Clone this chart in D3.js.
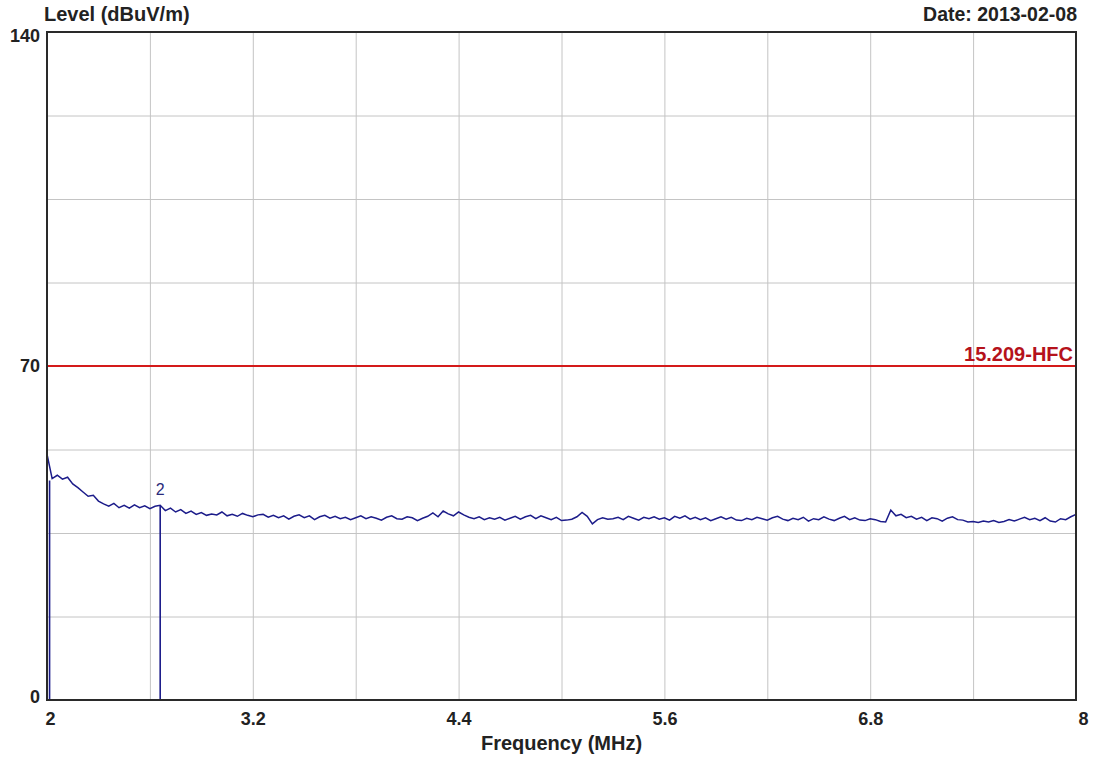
<!DOCTYPE html>
<html>
<head>
<meta charset="utf-8">
<script src="https://cdn.jsdelivr.net/npm/d3@7"></script>
<style>
  body { margin: 0; background: #fff; }
  svg text { font-family: "Liberation Sans", Arial, sans-serif; }
</style>
</head>
<body>
<div id="chart"></div>
<script>
// sweep 2..8 MHz, one reading every 0.03 MHz
const freqStart = 2;
const freqStep = 0.03;
const levels = [
  51.5, 46.4, 47.1, 46.3, 46.7, 45.3, 44.5, 43.6, 42.7, 42.9, 41.7, 41.1, 40.6, 41.2, 40.3, 40.8, 40.2, 40.9, 40.3, 40.7,
  40.1, 40.6, 40.8, 39.7, 40.2, 39.4, 39.9, 39.1, 39.6, 38.9, 39.3, 38.7, 39.0, 38.8, 39.4, 38.6, 38.9, 38.5, 39.1, 38.7,
  38.4, 38.8, 38.9, 38.3, 38.7, 38.2, 38.6, 37.9, 38.5, 38.8, 38.2, 38.6, 37.8, 38.4, 38.7, 38.1, 38.5, 38.0, 38.3, 37.8,
  38.2, 38.6, 38.0, 38.4, 38.1, 37.7, 38.3, 38.6, 38.0, 37.9, 38.4, 38.2, 37.6, 38.1, 38.5, 39.2, 38.4, 39.6, 39.0, 38.6,
  39.4, 38.8, 38.3, 38.0, 38.4, 37.8, 38.2, 37.9, 38.3, 37.7, 38.1, 38.5, 37.9, 38.4, 38.7, 38.0, 38.6, 38.2, 37.8, 38.3,
  37.6, 37.7, 37.9, 38.4, 39.3, 38.5, 36.9, 37.8, 38.2, 37.9, 38.0, 38.3, 37.8, 38.5, 38.1, 37.7, 38.3, 38.0, 38.4, 37.9,
  38.2, 37.7, 38.5, 38.1, 38.6, 37.9, 38.3, 37.8, 38.2, 37.6, 38.0, 38.4, 37.9, 38.3, 37.7, 37.6, 38.1, 37.8, 38.3, 38.0,
  37.7, 38.2, 38.5, 37.9, 37.6, 38.1, 37.8, 38.3, 37.5, 38.0, 37.8, 38.4, 37.9, 37.6, 38.1, 38.5, 37.8, 38.2, 37.7, 37.6,
  38.0, 37.8, 37.4, 37.3, 39.8, 38.6, 38.9, 38.2, 38.5, 37.9, 38.3, 37.6, 38.2, 38.0, 37.5, 38.1, 38.4, 37.8, 37.7, 37.3,
  37.4, 37.2, 37.5, 37.3, 37.6, 37.2, 37.4, 37.8, 37.5, 37.9, 38.3, 37.8, 38.1, 37.6, 38.2, 37.5, 37.3, 38.0, 37.8, 38.4, 38.9
];

const markerFreqs = [2.015, 2.66];
const markerLevels = [46.0, 40.8];
const markerNames = ["", "2"];

const limitLevel = 70;
const limitName = "15.209-HFC";

const xTicks = [2, 3.2, 4.4, 5.6, 6.8, 8];
const yTicks = [0, 70, 140];

const width = 1094;
const height = 758;
const margin = { top: 32, right: 18, bottom: 58, left: 47 };
const innerW = width - margin.left - margin.right;
const innerH = height - margin.top - margin.bottom;

const x = d3.scaleLinear().domain([2, 8]).range([0, innerW]);
const y = d3.scaleLinear().domain([0, 140]).range([innerH, 0]);

const svg = d3.select("#chart").append("svg")
  .attr("width", width)
  .attr("height", height);

const g = svg.append("g").attr("transform", `translate(${margin.left},${margin.top})`);

// grid
g.append("g")
  .attr("transform", `translate(0,${innerH})`)
  .call(d3.axisBottom(x).tickValues(d3.range(0, 11).map(i => 2 + i * 0.6)).tickSize(-innerH).tickFormat(""))
  .call(a => a.select(".domain").remove())
  .selectAll("line").attr("stroke", "#c4c4c4");

g.append("g")
  .call(d3.axisLeft(y).tickValues(d3.range(0, 9).map(i => i * 17.5)).tickSize(-innerW).tickFormat(""))
  .call(a => a.select(".domain").remove())
  .selectAll("line").attr("stroke", "#c4c4c4");

// tick labels
const xLab = g.append("g")
  .attr("transform", `translate(0,${innerH})`)
  .call(d3.axisBottom(x).tickValues(xTicks).tickSize(0).tickPadding(12).tickFormat(d3.format("")));
xLab.select(".domain").remove();
xLab.selectAll("text")
  .attr("font-size", 18).attr("font-weight", "bold").attr("fill", "#222")
  .attr("font-family", "Liberation Sans, Arial, sans-serif")
  .attr("dx", d => d === 2 ? 3 : d === 8 ? 7 : 0);

const yLab = g.append("g")
  .call(d3.axisLeft(y).tickValues(yTicks).tickSize(0).tickPadding(7));
yLab.select(".domain").remove();
yLab.selectAll("text")
  .attr("font-size", 18).attr("font-weight", "bold").attr("fill", "#222")
  .attr("font-family", "Liberation Sans, Arial, sans-serif")
  .attr("dy", d => d === 140 ? "0.5em" : d === 0 ? "0.15em" : "0.32em");

// limit line
g.append("line")
  .attr("x1", 0).attr("x2", innerW)
  .attr("y1", y(limitLevel)).attr("y2", y(limitLevel))
  .attr("stroke", "#d41a1a").attr("stroke-width", 2);

g.append("text")
  .attr("x", innerW - 3).attr("y", y(limitLevel) - 5)
  .attr("text-anchor", "end")
  .attr("font-size", 20).attr("font-weight", "bold")
  .attr("fill", "#b5121b")
  .text(limitName);

// trace
const trace = levels.map((v, i) => [freqStart + i * freqStep, v]);
g.append("path")
  .datum(trace)
  .attr("fill", "none")
  .attr("stroke", "#1c1c8a")
  .attr("stroke-width", 1.5)
  .attr("d", d3.line().x(d => x(d[0])).y(d => y(d[1])));

// markers
markerFreqs.forEach((f, i) => {
  g.append("line")
    .attr("x1", x(f)).attr("x2", x(f))
    .attr("y1", y(markerLevels[i])).attr("y2", innerH)
    .attr("stroke", "#1c1c8a").attr("stroke-width", 1.6);
  if (markerNames[i]) {
    g.append("text")
      .attr("x", x(f)).attr("y", y(markerLevels[i]) - 10)
      .attr("text-anchor", "middle")
      .attr("font-size", 16)
      .attr("fill", "#2a2a7a")
      .text(markerNames[i]);
  }
});

// frame
g.append("rect")
  .attr("width", innerW).attr("height", innerH)
  .attr("fill", "none").attr("stroke", "#2a2a2a").attr("stroke-width", 2);

// titles
svg.append("text")
  .attr("x", 44).attr("y", 21)
  .attr("font-size", 20).attr("font-weight", "bold").attr("fill", "#222")
  .text("Level (dBuV/m)");

svg.append("text")
  .attr("x", width - margin.right + 1).attr("y", 21)
  .attr("text-anchor", "end")
  .attr("font-size", 19.5).attr("font-weight", "bold").attr("fill", "#222")
  .text("Date: 2013-02-08");

svg.append("text")
  .attr("x", margin.left + innerW / 2).attr("y", 750)
  .attr("text-anchor", "middle")
  .attr("font-size", 20).attr("font-weight", "bold").attr("fill", "#222")
  .text("Frequency (MHz)");
</script>
</body>
</html>
